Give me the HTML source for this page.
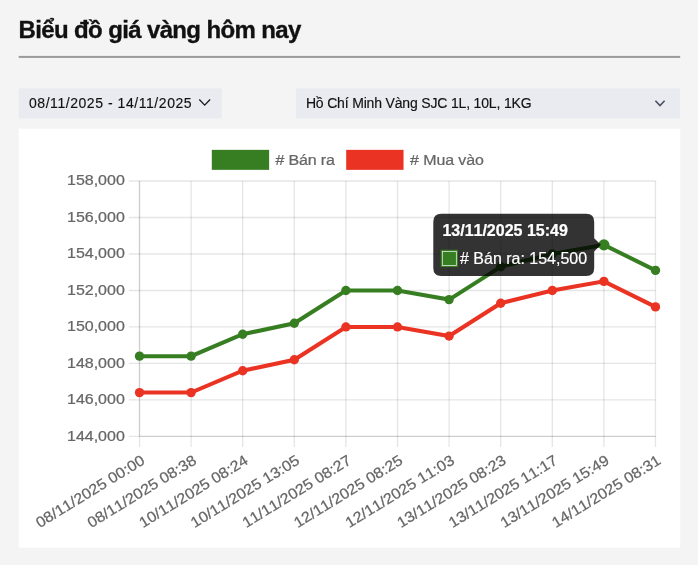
<!DOCTYPE html>
<html><head><meta charset="utf-8">
<style>
html,body{margin:0;padding:0;}
body{width:698px;height:565px;background:#f4f4f4;position:relative;overflow:hidden;font-family:"Liberation Sans",sans-serif;}
#wrap{position:absolute;left:0;top:0;width:698px;height:565px;will-change:transform;}
.title{position:absolute;left:18.6px;top:15px;font-size:24px;font-weight:bold;color:#111;line-height:30px;white-space:nowrap;letter-spacing:-0.64px;-webkit-text-stroke:0.35px #111;}
.dt{position:absolute;top:87.8px;height:30px;font-size:14px;color:#111;line-height:30px;white-space:nowrap;-webkit-text-stroke:0.15px #111;}
svg{position:absolute;left:0;top:0;font-kerning:none;}
</style></head><body>
<div id="wrap">
<svg width="698" height="565" viewBox="0 0 698 565" font-family="Liberation Sans, sans-serif">
<rect x="18.7" y="55.9" width="661.5" height="2" fill="#9a9a9a"/>
<rect x="18.7" y="88.3" width="203.2" height="30.1" fill="#e9ebf0"/>
<rect x="296" y="88.3" width="384" height="30.1" fill="#e9ebf0"/>
<rect x="18.7" y="128.7" width="661.5" height="419" fill="#fff"/>
<path d="M199.3 99.5 L204.7 105.1 L210.1 99.5" fill="none" stroke="#1a1a1a" stroke-width="1.3"/>
<path d="M655.4 100.8 L660 105.6 L664.6 100.8" fill="none" stroke="#4b5160" stroke-width="1.6"/>
<line x1="128.83" y1="181.00" x2="655.50" y2="181.00" stroke="rgba(0,0,0,0.1)" stroke-width="1.333"/>
<line x1="128.83" y1="217.49" x2="655.50" y2="217.49" stroke="rgba(0,0,0,0.1)" stroke-width="1.333"/>
<line x1="128.83" y1="253.97" x2="655.50" y2="253.97" stroke="rgba(0,0,0,0.1)" stroke-width="1.333"/>
<line x1="128.83" y1="290.46" x2="655.50" y2="290.46" stroke="rgba(0,0,0,0.1)" stroke-width="1.333"/>
<line x1="128.83" y1="326.94" x2="655.50" y2="326.94" stroke="rgba(0,0,0,0.1)" stroke-width="1.333"/>
<line x1="128.83" y1="363.43" x2="655.50" y2="363.43" stroke="rgba(0,0,0,0.1)" stroke-width="1.333"/>
<line x1="128.83" y1="399.91" x2="655.50" y2="399.91" stroke="rgba(0,0,0,0.1)" stroke-width="1.333"/>
<line x1="128.83" y1="436.40" x2="655.50" y2="436.40" stroke="rgba(0,0,0,0.1)" stroke-width="1.333"/>
<line x1="139.50" y1="181.00" x2="139.50" y2="447.07" stroke="rgba(0,0,0,0.1)" stroke-width="1.333"/>
<line x1="191.10" y1="181.00" x2="191.10" y2="447.07" stroke="rgba(0,0,0,0.1)" stroke-width="1.333"/>
<line x1="242.70" y1="181.00" x2="242.70" y2="447.07" stroke="rgba(0,0,0,0.1)" stroke-width="1.333"/>
<line x1="294.30" y1="181.00" x2="294.30" y2="447.07" stroke="rgba(0,0,0,0.1)" stroke-width="1.333"/>
<line x1="345.90" y1="181.00" x2="345.90" y2="447.07" stroke="rgba(0,0,0,0.1)" stroke-width="1.333"/>
<line x1="397.50" y1="181.00" x2="397.50" y2="447.07" stroke="rgba(0,0,0,0.1)" stroke-width="1.333"/>
<line x1="449.10" y1="181.00" x2="449.10" y2="447.07" stroke="rgba(0,0,0,0.1)" stroke-width="1.333"/>
<line x1="500.70" y1="181.00" x2="500.70" y2="447.07" stroke="rgba(0,0,0,0.1)" stroke-width="1.333"/>
<line x1="552.30" y1="181.00" x2="552.30" y2="447.07" stroke="rgba(0,0,0,0.1)" stroke-width="1.333"/>
<line x1="603.90" y1="181.00" x2="603.90" y2="447.07" stroke="rgba(0,0,0,0.1)" stroke-width="1.333"/>
<line x1="655.50" y1="181.00" x2="655.50" y2="447.07" stroke="rgba(0,0,0,0.1)" stroke-width="1.333"/>
<line x1="139.50" y1="181.00" x2="139.50" y2="436.40" stroke="rgba(0,0,0,0.1)" stroke-width="1.333"/>
<line x1="139.50" y1="436.40" x2="655.50" y2="436.40" stroke="rgba(0,0,0,0.1)" stroke-width="1.333"/>
<text transform="translate(124.8,185.40) scale(1,0.93)" text-anchor="end" font-size="16" fill="#666" stroke="#666" stroke-width="0.25">158,000</text>
<text transform="translate(124.8,221.89) scale(1,0.93)" text-anchor="end" font-size="16" fill="#666" stroke="#666" stroke-width="0.25">156,000</text>
<text transform="translate(124.8,258.37) scale(1,0.93)" text-anchor="end" font-size="16" fill="#666" stroke="#666" stroke-width="0.25">154,000</text>
<text transform="translate(124.8,294.86) scale(1,0.93)" text-anchor="end" font-size="16" fill="#666" stroke="#666" stroke-width="0.25">152,000</text>
<text transform="translate(124.8,331.34) scale(1,0.93)" text-anchor="end" font-size="16" fill="#666" stroke="#666" stroke-width="0.25">150,000</text>
<text transform="translate(124.8,367.83) scale(1,0.93)" text-anchor="end" font-size="16" fill="#666" stroke="#666" stroke-width="0.25">148,000</text>
<text transform="translate(124.8,404.31) scale(1,0.93)" text-anchor="end" font-size="16" fill="#666" stroke="#666" stroke-width="0.25">146,000</text>
<text transform="translate(124.8,440.80) scale(1,0.93)" text-anchor="end" font-size="16" fill="#666" stroke="#666" stroke-width="0.25">144,000</text>
<text transform="translate(138.20,450.6) rotate(-31.5) translate(0,14.7) scale(1,0.93)" text-anchor="end" font-size="16" fill="#666" stroke="#666" stroke-width="0.25">08/11/2025 00:00</text>
<text transform="translate(189.80,450.6) rotate(-31.5) translate(0,14.7) scale(1,0.93)" text-anchor="end" font-size="16" fill="#666" stroke="#666" stroke-width="0.25">08/11/2025 08:38</text>
<text transform="translate(241.40,450.6) rotate(-31.5) translate(0,14.7) scale(1,0.93)" text-anchor="end" font-size="16" fill="#666" stroke="#666" stroke-width="0.25">10/11/2025 08:24</text>
<text transform="translate(293.00,450.6) rotate(-31.5) translate(0,14.7) scale(1,0.93)" text-anchor="end" font-size="16" fill="#666" stroke="#666" stroke-width="0.25">10/11/2025 13:05</text>
<text transform="translate(344.60,450.6) rotate(-31.5) translate(0,14.7) scale(1,0.93)" text-anchor="end" font-size="16" fill="#666" stroke="#666" stroke-width="0.25">11/11/2025 08:27</text>
<text transform="translate(396.20,450.6) rotate(-31.5) translate(0,14.7) scale(1,0.93)" text-anchor="end" font-size="16" fill="#666" stroke="#666" stroke-width="0.25">12/11/2025 08:25</text>
<text transform="translate(447.80,450.6) rotate(-31.5) translate(0,14.7) scale(1,0.93)" text-anchor="end" font-size="16" fill="#666" stroke="#666" stroke-width="0.25">12/11/2025 11:03</text>
<text transform="translate(499.40,450.6) rotate(-31.5) translate(0,14.7) scale(1,0.93)" text-anchor="end" font-size="16" fill="#666" stroke="#666" stroke-width="0.25">13/11/2025 08:23</text>
<text transform="translate(551.00,450.6) rotate(-31.5) translate(0,14.7) scale(1,0.93)" text-anchor="end" font-size="16" fill="#666" stroke="#666" stroke-width="0.25">13/11/2025 11:17</text>
<text transform="translate(602.60,450.6) rotate(-31.5) translate(0,14.7) scale(1,0.93)" text-anchor="end" font-size="16" fill="#666" stroke="#666" stroke-width="0.25">13/11/2025 15:49</text>
<text transform="translate(654.20,450.6) rotate(-31.5) translate(0,14.7) scale(1,0.93)" text-anchor="end" font-size="16" fill="#666" stroke="#666" stroke-width="0.25">14/11/2025 08:31</text>
<rect x="211.8" y="149.85" width="57.33" height="20" fill="#377e22"/>
<text transform="translate(275.6,164.7) scale(1,0.93)" letter-spacing="-0.18" font-size="16" fill="#666" stroke="#666" stroke-width="0.25"># Bán ra</text>
<rect x="346.2" y="149.85" width="57.33" height="20" fill="#ea3323"/>
<text transform="translate(410.1,164.7) scale(1,0.93)" letter-spacing="-0.1" font-size="16" fill="#666" stroke="#666" stroke-width="0.25"># Mua vào</text>
<polyline points="139.50,392.62 191.10,392.62 242.70,370.73 294.30,359.78 345.90,326.94 397.50,326.94 449.10,336.06 500.70,303.23 552.30,290.46 603.90,281.34 655.50,306.88" fill="none" stroke="#ea3323" stroke-width="4" stroke-linejoin="miter"/>
<circle cx="139.50" cy="392.62" r="4.67" fill="#ea3323"/>
<circle cx="191.10" cy="392.62" r="4.67" fill="#ea3323"/>
<circle cx="242.70" cy="370.73" r="4.67" fill="#ea3323"/>
<circle cx="294.30" cy="359.78" r="4.67" fill="#ea3323"/>
<circle cx="345.90" cy="326.94" r="4.67" fill="#ea3323"/>
<circle cx="397.50" cy="326.94" r="4.67" fill="#ea3323"/>
<circle cx="449.10" cy="336.06" r="4.67" fill="#ea3323"/>
<circle cx="500.70" cy="303.23" r="4.67" fill="#ea3323"/>
<circle cx="552.30" cy="290.46" r="4.67" fill="#ea3323"/>
<circle cx="603.90" cy="281.34" r="4.67" fill="#ea3323"/>
<circle cx="655.50" cy="306.88" r="4.67" fill="#ea3323"/>
<polyline points="139.50,356.13 191.10,356.13 242.70,334.24 294.30,323.29 345.90,290.46 397.50,290.46 449.10,299.58 500.70,266.74 552.30,253.97 603.90,244.85 655.50,270.39" fill="none" stroke="#377e22" stroke-width="4" stroke-linejoin="miter"/>
<circle cx="139.50" cy="356.13" r="4.67" fill="#377e22"/>
<circle cx="191.10" cy="356.13" r="4.67" fill="#377e22"/>
<circle cx="242.70" cy="334.24" r="4.67" fill="#377e22"/>
<circle cx="294.30" cy="323.29" r="4.67" fill="#377e22"/>
<circle cx="345.90" cy="290.46" r="4.67" fill="#377e22"/>
<circle cx="397.50" cy="290.46" r="4.67" fill="#377e22"/>
<circle cx="449.10" cy="299.58" r="4.67" fill="#377e22"/>
<circle cx="500.70" cy="266.74" r="4.67" fill="#377e22"/>
<circle cx="552.30" cy="253.97" r="4.67" fill="#377e22"/>
<circle cx="603.90" cy="244.85" r="5.6" fill="#377e22"/>
<circle cx="655.50" cy="270.39" r="4.67" fill="#377e22"/>
<path d="M441.3,213.7 H586.2 Q594.2,213.7 594.2,221.7 V238.18 L600.87,244.85 L594.2,251.52 V268.0 Q594.2,276.0 586.2,276.0 H441.3 Q433.3,276.0 433.3,268.0 V221.7 Q433.3,213.7 441.3,213.7 Z" fill="rgba(0,0,0,0.8)"/>
<text transform="translate(442.4,236.1) scale(1,0.985)" font-size="16" font-weight="bold" fill="#fff" stroke="#fff" stroke-width="0.25">13/11/2025 15:49</text>
<rect x="441.3" y="250.4" width="16" height="16" fill="#fff"/>
<rect x="441.3" y="250.4" width="16" height="16" fill="none" stroke="#377e22" stroke-width="1.333"/>
<rect x="442.63" y="251.73" width="13.33" height="13.33" fill="#377e22"/>
<text transform="translate(460.0,263.9) scale(1,0.99)" font-size="16" fill="#fff" stroke="#fff" stroke-width="0.2"># Bán ra: 154,500</text>
</svg>
<div class="title">Biểu đồ giá vàng hôm nay</div>
<div class="dt" style="left:29px;letter-spacing:0.55px;">08/11/2025 - 14/11/2025</div>
<div class="dt" style="left:305.9px;letter-spacing:-0.17px;">Hồ Chí Minh Vàng SJC 1L, 10L, 1KG</div>
</div>
</body></html>
